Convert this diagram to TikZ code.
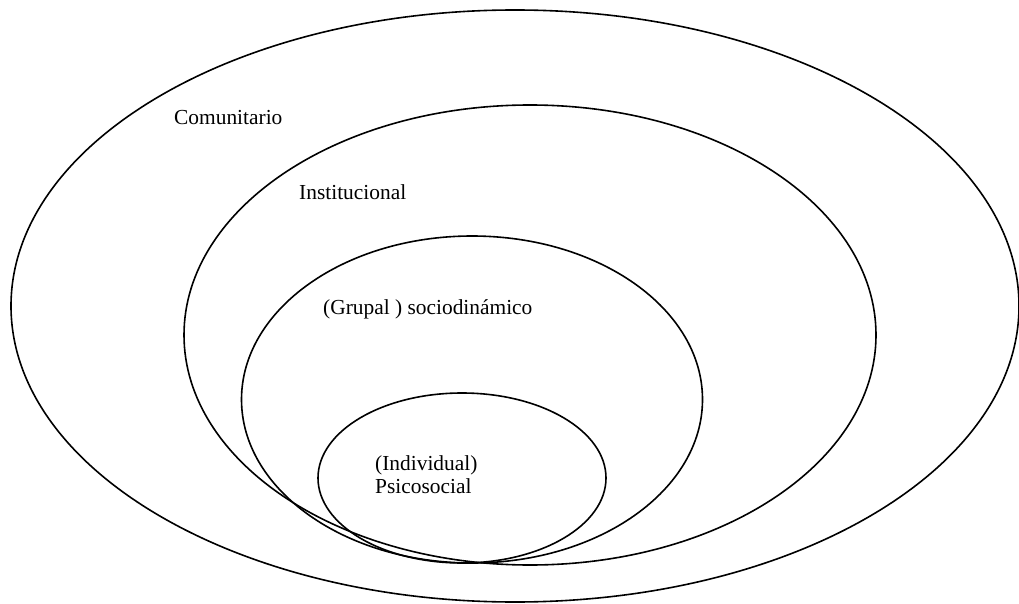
\documentclass[tikz,border=0pt]{standalone}
\usepackage{fontspec}
\setmainfont{Liberation Serif}
\begin{document}
\begin{tikzpicture}[x=1pt,y=-1pt,
  ring/.style={draw=black,line width=1.6pt},
  lbl/.style={anchor=base west,inner sep=0pt,font=\fontsize{21.4}{23}\selectfont}]
\useasboundingbox (0,0) rectangle (1019,604);
% nested levels, all nearly tangent at the bottom
\draw[ring] (515,306) ellipse [x radius=504,y radius=296];
\draw[ring] (530,335) ellipse [x radius=346,y radius=230];
\draw[ring] (472,399.5) ellipse [x radius=230.5,y radius=163.5];
\draw[ring] (462,478) ellipse [x radius=144,y radius=85];
% level names
\node[lbl] (com) at (174,125) {Comunitario};
\node[lbl] (ins) at (299,200) {Institucional};
\node[lbl] (gru) at (323,314) {(Grupal ) sociodinámico};
\node[lbl] (ind) at (375,470) {(Individual)};
\node[lbl] (psi) at (375,493) {Psicosocial};
\end{tikzpicture}
\end{document}
